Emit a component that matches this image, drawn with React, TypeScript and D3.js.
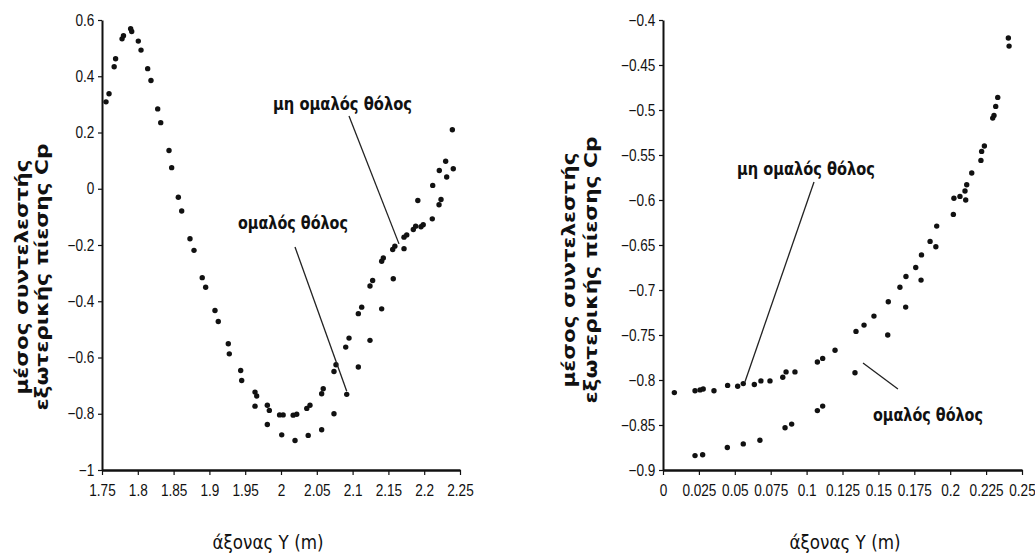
import React, { useEffect, useRef } from 'react';
import * as d3 from 'd3';

// left panel: Cp along Y between 1.75 and 2.25 m
const leftSmooth: [number, number][] = [
  [1.7556, 0.309], [1.767, 0.434], [1.778, 0.533], [1.79, 0.569], [1.8007, 0.525],
  [1.8138, 0.427], [1.8278, 0.284], [1.8436, 0.136], [1.8566, -0.03], [1.8729, -0.178],
  [1.89, -0.316], [1.9078, -0.433], [1.9264, -0.551], [1.9437, -0.646], [1.9637, -0.773],
  [1.9809, -0.838], [2.001, -0.875], [2.0196, -0.895], [2.038, -0.877], [2.0568, -0.857],
  [2.074, -0.8], [2.0918, -0.731], [2.108, -0.634], [2.1243, -0.539], [2.1406, -0.427],
  [2.1568, -0.32], [2.1718, -0.213], [2.1911, -0.042], [2.2119, 0.012], [2.2211, 0.065],
  [2.23, 0.098], [2.2393, 0.21],
];
const leftRough: [number, number][] = [
  [1.7598, 0.338], [1.769, 0.462], [1.78, 0.544], [1.7915, 0.559], [1.8045, 0.493],
  [1.8184, 0.385], [1.832, 0.235], [1.8473, 0.075], [1.8613, -0.079], [1.8785, -0.219],
  [1.8948, -0.35], [1.9124, -0.472], [1.9278, -0.587], [1.9451, -0.682], [1.9637, -0.723],
  [1.966, -0.737], [1.9809, -0.77], [1.9837, -0.788], [1.998, -0.804], [2.003, -0.804],
  [2.017, -0.805], [2.022, -0.802], [2.036, -0.781], [2.0405, -0.77], [2.0568, -0.729],
  [2.059, -0.711], [2.074, -0.65], [2.0768, -0.626], [2.0904, -0.563], [2.095, -0.531],
  [2.108, -0.444], [2.1127, -0.421], [2.1243, -0.346], [2.128, -0.326], [2.1406, -0.258],
  [2.1429, -0.246], [2.156, -0.216], [2.159, -0.204], [2.1718, -0.172], [2.1756, -0.164],
  [2.1848, -0.145], [2.1881, -0.133], [2.1955, -0.135], [2.1986, -0.128], [2.2113, -0.107],
  [2.2207, -0.057], [2.2235, -0.038], [2.2314, 0.042], [2.2406, 0.071],
];

// right panel: Cp along Y between 0 and 0.25 m
const rightSmooth: [number, number][] = [
  [0.0223, -0.884], [0.0276, -0.883], [0.0448, -0.875], [0.0559, -0.871], [0.0675, -0.867],
  [0.085, -0.853], [0.0896, -0.849], [0.1075, -0.834], [0.1112, -0.829], [0.1337, -0.792],
  [0.1565, -0.75], [0.169, -0.719], [0.1797, -0.689], [0.19, -0.652], [0.2022, -0.616],
  [0.2108, -0.6], [0.2214, -0.556], [0.2296, -0.509], [0.2331, -0.486], [0.241, -0.429],
];
const rightRough: [number, number][] = [
  [0.0079, -0.814], [0.0223, -0.812], [0.0258, -0.811], [0.028, -0.81], [0.0355, -0.812],
  [0.045, -0.806], [0.052, -0.807], [0.0559, -0.804], [0.0636, -0.805], [0.0682, -0.801],
  [0.0745, -0.801], [0.0834, -0.797], [0.0857, -0.791], [0.0919, -0.791], [0.1075, -0.78],
  [0.1112, -0.776], [0.1198, -0.767], [0.1344, -0.746], [0.14, -0.739], [0.1469, -0.729],
  [0.1569, -0.713], [0.165, -0.697], [0.1692, -0.685], [0.176, -0.675], [0.18, -0.661],
  [0.186, -0.646], [0.1906, -0.629], [0.2026, -0.598], [0.2068, -0.596], [0.2103, -0.59],
  [0.2115, -0.583], [0.215, -0.57], [0.2219, -0.546], [0.2238, -0.54], [0.2305, -0.506],
  [0.2317, -0.496], [0.2405, -0.42],
];

const leftXTicks = [1.75, 1.8, 1.85, 1.9, 1.95, 2, 2.05, 2.1, 2.15, 2.2, 2.25];
const leftYTicks = [0.6, 0.4, 0.2, 0, -0.2, -0.4, -0.6, -0.8, -1];
const rightXTicks = [0, 0.025, 0.05, 0.075, 0.1, 0.125, 0.15, 0.175, 0.2, 0.225, 0.25];
const rightYTicks = [-0.4, -0.45, -0.5, -0.55, -0.6, -0.65, -0.7, -0.75, -0.8, -0.85, -0.9];

const yTitle = ['μέσος συντελεστής', 'εξωτερικής πίεσης Cp'];
const xTitle = 'άξονας Y (m)';
const smoothName = 'ομαλός θόλος';
const roughName = 'μη ομαλός θόλος';

const W = 1035;
const H = 557;
const fmt = (v: number) => String(v).replace('-', '\u2212');

const panels = [
  {
    x0: 102, x1: 460, xDomain: [1.75, 2.25], yDomain: [-1, 0.6],
    xTicks: leftXTicks, yTicks: leftYTicks, smooth: leftSmooth, rough: leftRough,
    titleX: [28, 48], titleY: 277, xTitleX: 268,
    notes: [
      { text: roughName, x: 273, y: 110, w: 139, from: [349, 116], to: [2.1648, -0.196] },
      { text: smoothName, x: 238, y: 229, w: 110, from: [295, 247], to: [2.0918, -0.72] },
    ],
  },
  {
    x0: 663, x1: 1022, xDomain: [0, 0.25], yDomain: [-0.9, -0.4],
    xTicks: rightXTicks, yTicks: rightYTicks, smooth: rightSmooth, rough: rightRough,
    titleX: [575, 597], titleY: 270, xTitleX: 845,
    notes: [
      { text: roughName, x: 737, y: 175, w: 138, from: [814, 182], to: [0.0571, -0.802] },
      { text: smoothName, x: 873, y: 421, w: 110, from: [863, 363], to: [0.1636, -0.81] },
    ],
  },
];

const App = () => {
  const ref = useRef<SVGSVGElement>(null);

  useEffect(() => {
    const svg = d3.select(ref.current);
    svg.selectAll('*').remove();
    const top = 20;
    const bottom = 470;

    panels.forEach((p) => {
      const x = d3.scaleLinear().domain(p.xDomain).range([p.x0, p.x1]);
      const y = d3.scaleLinear().domain(p.yDomain).range([bottom, top]);
      const g = svg.append('g');

      const yAxis = g.append('g')
        .attr('transform', `translate(${p.x0},0)`)
        .call(d3.axisLeft(y).tickValues(p.yTicks).tickFormat((d) => fmt(+d)).tickSize(4).tickSizeOuter(0));
      const xAxis = g.append('g')
        .attr('transform', `translate(0,${bottom})`)
        .call(d3.axisBottom(x).tickValues(p.xTicks).tickFormat((d) => fmt(+d)).tickSize(5).tickSizeOuter(0));

      [yAxis, xAxis].forEach((a) => {
        a.select('.domain').attr('stroke', '#111');
        a.selectAll('.tick line').attr('stroke', '#111').attr('stroke-width', 1.2);
        a.selectAll('.tick text')
          .attr('fill', '#111')
          .attr('transform', 'scale(0.85,1)')
          .style('font-family', '"Liberation Sans", Arial, sans-serif')
          .style('font-size', '16px');
      });
      yAxis.select('.domain').attr('stroke-width', 2);
      xAxis.select('.domain').attr('stroke-width', 2.6);
      yAxis.selectAll('.tick text').attr('x', -9);
      xAxis.selectAll('.tick text').attr('y', 15);

      // markers
      const pts = [...p.smooth, ...p.rough];
      g.append('g').selectAll('circle')
        .data(pts)
        .enter()
        .append('circle')
        .attr('cx', (d) => x(d[0]))
        .attr('cy', (d) => y(d[1]))
        .attr('r', 2.7)
        .attr('fill', '#111');

      // y title, two rotated lines
      p.titleX.forEach((tx, i) => {
        g.append('text')
          .attr('transform', `translate(${tx},${p.titleY}) rotate(-90)`)
          .attr('text-anchor', 'middle')
          .attr('textLength', i === 0 ? 235 : 267)
          .attr('lengthAdjust', 'spacingAndGlyphs')
          .style('font-family', '"DejaVu Sans", sans-serif')
          .style('font-weight', 'bold')
          .style('font-size', '17px')
          .attr('fill', '#111')
          .text(yTitle[i]);
      });

      g.append('text')
        .attr('x', p.xTitleX)
        .attr('y', 549)
        .attr('text-anchor', 'middle')
        .attr('textLength', 111)
        .attr('lengthAdjust', 'spacingAndGlyphs')
        .style('font-family', '"DejaVu Sans", sans-serif')
        .style('font-size', '19px')
        .attr('fill', '#111')
        .text(xTitle);

      p.notes.forEach((n) => {
        g.append('text')
          .attr('x', n.x)
          .attr('y', n.y)
          .attr('textLength', n.w)
          .attr('lengthAdjust', 'spacingAndGlyphs')
          .style('font-family', '"DejaVu Sans", sans-serif')
          .style('font-weight', 'bold')
          .style('font-size', '17px')
          .attr('fill', '#111')
          .text(n.text);
        g.append('line')
          .attr('x1', n.from[0])
          .attr('y1', n.from[1])
          .attr('x2', x(n.to[0]))
          .attr('y2', y(n.to[1]))
          .attr('stroke', '#222')
          .attr('stroke-width', 1.3);
      });
    });
  }, []);

  return (
    <svg
      ref={ref}
      width={W}
      height={H}
      style={{ position: 'absolute', left: 0, top: 0, background: '#fff' }}
    />
  );
};

export default App;
